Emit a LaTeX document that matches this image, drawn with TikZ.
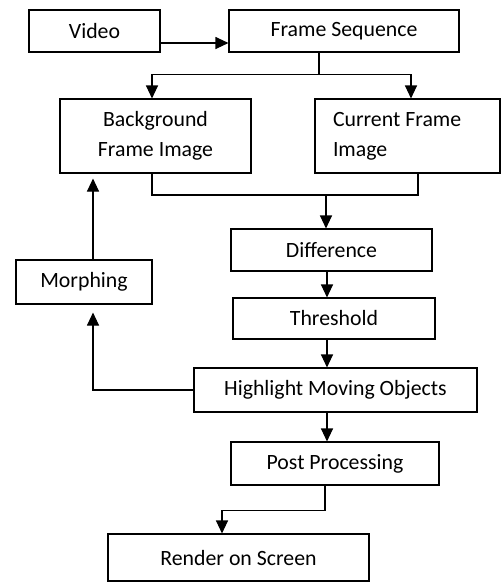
\documentclass[tikz,border=0pt]{standalone}
\usepackage{fontspec}
\setmainfont{Carlito}
\usetikzlibrary{arrows.meta}
\begin{document}
\begin{tikzpicture}[x=1pt,y=-1pt,
  box/.style={draw, line width=1.1pt, inner sep=0pt, align=center, font=\fontsize{21.8}{30}\selectfont},
  arr/.style={line width=1.1pt, -{Triangle[length=13pt,width=12pt]}},
  ln/.style={line width=1.1pt}]
\useasboundingbox (0,0) rectangle (501,582);
\node[box, minimum width=131pt, minimum height=42pt] (video) at (94.5,31) {Video};
\node[box, minimum width=230pt, minimum height=42pt] (fs) at (344,31) {Frame Sequence};
\node[box, minimum width=191pt, minimum height=74pt] (bg) at (155.5,136) {Background\\Frame Image};
\node[box, minimum width=185pt, minimum height=74pt, inner xsep=18pt, text width=149pt, align=flush left] (cur) at (407.5,136) {Current Frame\\Image};
\node[box, minimum width=136pt, minimum height=44pt] (morph) at (84,282) {Morphing};
\node[box, minimum width=201pt, minimum height=42pt] (diff) at (331.5,250) {Difference};
\node[box, minimum width=202pt, minimum height=41pt] (thr) at (334,318.5) {Threshold};
\node[box, minimum width=283pt, minimum height=44pt] (hl) at (335.5,390) {Highlight Moving Objects};
\node[box, minimum width=208pt, minimum height=43pt] (post) at (335,463.5) {Post Processing};
\node[box, minimum width=261pt, minimum height=47pt] (render) at (238.5,557.5) {Render on Screen};

\coordinate (vx) at (327,0);
\coordinate (px) at (325,0);
\coordinate (mx) at (93,0);

% Video -> Frame Sequence
\draw[arr] ([yshift=-12pt]video.east) -- ([yshift=-12pt]fs.west);
% Frame Sequence split
\draw[ln] ([xshift=-25pt]fs.south) -- ++(0,22) coordinate (s1);
\draw[arr] (s1) -| ([xshift=-3.5pt]bg.north);
\draw[arr] (s1) -| ([xshift=3.5pt]cur.north);
% join to Difference
\coordinate (j) at (326,195);
\draw[ln] ([xshift=-3.5pt]bg.south) |- (j) -| ([xshift=10.5pt]cur.south);
\draw[arr] (j) -- (j |- diff.north);
% chain
\draw[arr] (vx |- diff.south) -- (vx |- thr.north);
\draw[arr] (vx |- thr.south) -- (vx |- hl.north);
\draw[arr] (vx |- hl.south) -- (vx |- post.north);
% Post -> Render
\draw[arr] (px |- post.south) -- ++(0,25) -| ([xshift=-16.5pt]render.north);
% Highlight -> Morphing
\coordinate (mb) at ([yshift=-8pt]mx |- morph.south);
\draw[arr] (hl.west) -| (mb);
% Morphing -> Background
\coordinate (bb) at ([yshift=-5pt]mx |- bg.south);
\draw[arr] (mx |- morph.north) -- (bb);
\end{tikzpicture}
\end{document}
